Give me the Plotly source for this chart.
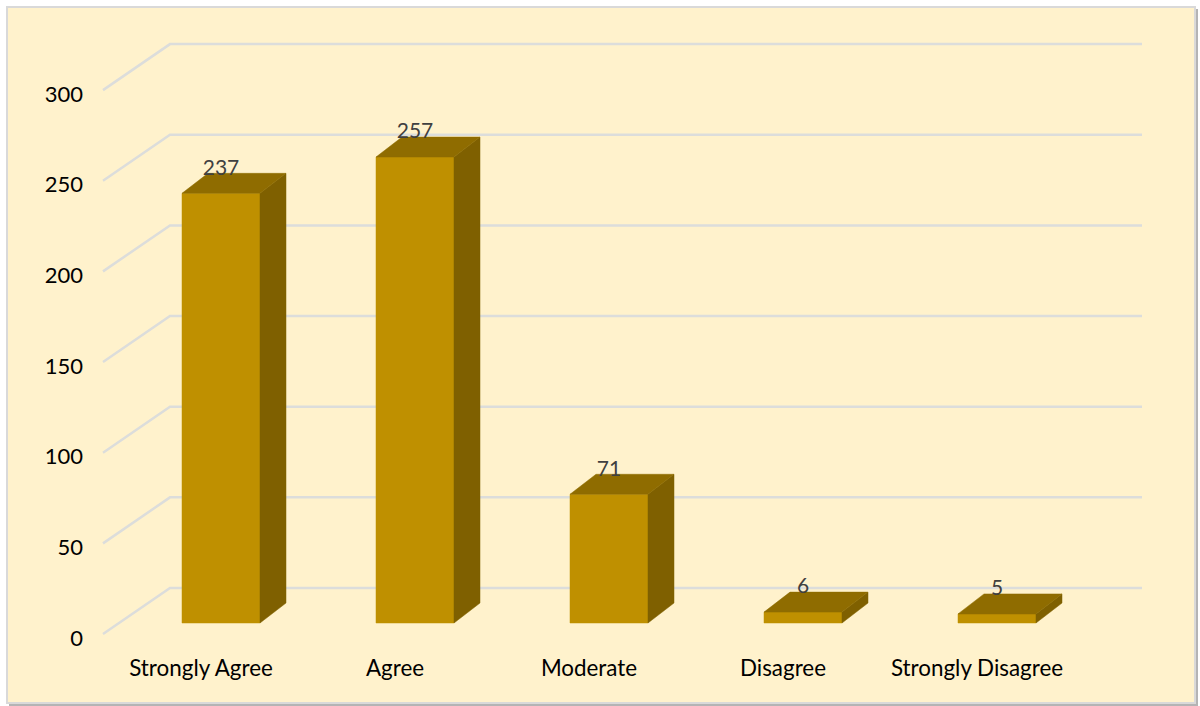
import plotly.graph_objects as go

categories = ["Strongly Agree", "Agree", "Moderate", "Disagree", "Strongly Disagree"]
values = [237, 257, 71, 6, 5]
tick_values = [0, 50, 100, 150, 200, 250, 300]
tick_labels = ["0", "50", "100", "150", "200", "250", "300"]

W, H = 1200, 706
PX_X = 194.0      # pixels per category
PX_Y = 1.813      # pixels per value unit
X0_PX = 221.0     # pixel of first bar centre
Y0_PX = 623.0     # pixel of value 0 at bar front
ux = lambda px: px / PX_X
uy = lambda px: px / PX_Y

BAR_W = ux(78)
DX, DY = ux(26), uy(20)
FRONT_COL, TOP_COL, SIDE_COL = "#BF9000", "#8F6C00", "#7F6000"
GRID_COL = "#DCDDDB"
FONT = "Lato"

fig = go.Figure()

# gridlines: front-left, back-left, back-right
gx = [(103 - X0_PX) / PX_X, (170 - X0_PX) / PX_X, (1142 - X0_PX) / PX_X]
for v in tick_values:
    fig.add_trace(go.Scatter(
        x=gx, y=[v - uy(11), v + uy(35), v + uy(35)], mode="lines",
        line=dict(color=GRID_COL, width=2.5), hoverinfo="skip", showlegend=False))


def poly(xs, ys, col):
    fig.add_trace(go.Scatter(
        x=xs, y=ys, mode="lines", fill="toself", fillcolor=col,
        line=dict(color=col, width=0.5), hoverinfo="skip", showlegend=False))


for i, v in enumerate(values):
    l, r = i - BAR_W / 2, i + BAR_W / 2
    poly([l, r, r, l, l], [0, 0, v, v, 0], FRONT_COL)
    poly([r, r + DX, r + DX, r, r], [0, DY, v + DY, v, 0], SIDE_COL)
    poly([l, r, r + DX, l + DX, l], [v, v, v + DY, v + DY, v], TOP_COL)

# data labels
fig.add_trace(go.Scatter(
    x=list(range(len(values))), y=[v + uy(24) for v in values],
    text=[str(v) for v in values], mode="text", textposition="middle center",
    textfont=dict(family=FONT, size=21, color="#404040"),
    hoverinfo="skip", showlegend=False))

# value axis labels
fig.add_trace(go.Scatter(
    x=[(83 - X0_PX) / PX_X] * len(tick_values), y=[v - uy(17) for v in tick_values],
    text=tick_labels, mode="text", textposition="middle left",
    textfont=dict(family=FONT, size=22, color="#000000"),
    hoverinfo="skip", showlegend=False))

# category labels
fig.add_trace(go.Scatter(
    x=[i - ux(20) for i in range(len(categories))], y=[uy(-47)] * len(categories),
    text=categories, mode="text", textposition="middle center",
    textfont=dict(family=FONT, size=22.4, color="#000000"),
    hoverinfo="skip", showlegend=False))

fig.update_layout(
    width=W, height=H, margin=dict(l=0, r=0, t=0, b=0),
    paper_bgcolor="#FFFFFF", plot_bgcolor="rgba(0,0,0,0)", showlegend=False,
    xaxis=dict(visible=False, range=[-X0_PX / PX_X, (W - X0_PX) / PX_X], fixedrange=True),
    yaxis=dict(visible=False, range=[(Y0_PX - H) / PX_Y, Y0_PX / PX_Y], fixedrange=True),
    shapes=[
        dict(type="rect", xref="paper", yref="paper", layer="below",
             x0=9 / W, x1=1198 / W, y0=1 - 706 / H, y1=1 - 9 / H,
             fillcolor="#B4B4B4", line=dict(width=0)),
        dict(type="rect", xref="paper", yref="paper", layer="below",
             x0=7 / W, x1=1195 / W, y0=1 - 703 / H, y1=1 - 7 / H,
             fillcolor="#FFF2CC", line=dict(color="#D9D9D9", width=2)),
    ],
)

fig.write_html("out.html", config=dict(displayModeBar=False),
               post_script="document.body.style.margin='0';document.body.style.overflow='hidden';")
